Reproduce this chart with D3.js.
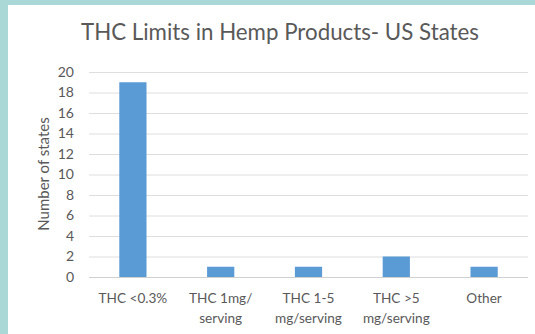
<!DOCTYPE html>
<html>
<head>
<meta charset="utf-8">
<script src="https://cdn.jsdelivr.net/npm/d3@7"></script>
<style>
  html, body { margin: 0; padding: 0; background: #aad8d6; }
  svg { display: block; }
</style>
</head>
<body>
<svg id="chart"></svg>
<script>
const width = 535;
const height = 334;

// data
const categories = ['THC <0.3%', 'THC 1mg/\nserving', 'THC 1-5\nmg/serving', 'THC >5\nmg/serving', 'Other'];
const states = [19, 1, 1, 2, 1];
const yTicks = [0, 2, 4, 6, 8, 10, 12, 14, 16, 18, 20];

const svg = d3.select('#chart')
    .attr('width', width)
    .attr('height', height);

// teal frame, white panel
svg.append('rect').attr('width', width).attr('height', height).attr('fill', '#aad8d6');
svg.append('rect')
    .attr('x', 8).attr('y', 5)
    .attr('width', width - 8).attr('height', height - 5)
    .attr('fill', '#ffffff');

const font = 'Lato, "Open Sans", sans-serif';
const textColor = '#595959';

const margin = {left: 89, right: 7, top: 72, bottom: 57};

const x = d3.scaleBand()
    .domain(categories)
    .range([margin.left, width - margin.right])
    .paddingInner(0.69)
    .paddingOuter(0.345);

const y = d3.scaleLinear()
    .domain([0, 20])
    .range([height - margin.bottom, margin.top]);

// gridlines
svg.append('g')
    .selectAll('line')
    .data(yTicks)
    .join('line')
    .attr('x1', margin.left)
    .attr('x2', width - margin.right)
    .attr('y1', d => y(d) + 0.5)
    .attr('y2', d => y(d) + 0.5)
    .attr('stroke', d => d === 0 ? '#d0d0d0' : '#dedede')
    .attr('stroke-width', 1);

// y tick labels
const yAxis = d3.axisLeft(y).tickValues(yTicks).tickSize(0).tickPadding(0);
const ya = svg.append('g')
    .attr('transform', `translate(${margin.left - 15},0)`)
    .call(yAxis);
ya.select('.domain').remove();
ya.selectAll('text')
    .attr('font-family', font)
    .attr('font-size', 14)
    .attr('fill', textColor);

// bars
svg.append('g')
    .selectAll('rect')
    .data(states)
    .join('rect')
    .attr('x', (d, i) => x(categories[i]))
    .attr('width', x.bandwidth())
    .attr('y', d => y(d))
    .attr('height', d => y(0) - y(d))
    .attr('fill', '#5b9bd5');

// category labels (two lines some)
const xl = svg.append('g')
    .selectAll('text')
    .data(categories)
    .join('text')
    .attr('x', d => x(d) + x.bandwidth() / 2)
    .attr('y', 303)
    .attr('text-anchor', 'middle')
    .attr('font-family', font)
    .attr('font-size', 13.6)
    .attr('fill', textColor);
xl.selectAll('tspan')
    .data(d => d.split('\n'))
    .join('tspan')
    .attr('x', function() { return d3.select(this.parentNode).attr('x'); })
    .attr('dy', (d, i) => i === 0 ? 0 : 20)
    .text(d => d);

// axis title
svg.append('text')
    .attr('transform', 'translate(49,174) rotate(-90)')
    .attr('text-anchor', 'middle')
    .attr('font-family', font)
    .attr('font-size', 15)
    .attr('fill', textColor)
    .text('Number of states');

// chart title
svg.append('text')
    .attr('x', 280)
    .attr('y', 40)
    .attr('text-anchor', 'middle')
    .attr('font-family', font)
    .attr('font-size', 22.3)
    .attr('fill', textColor)
    .text('THC Limits in Hemp Products- US States');
</script>
</body>
</html>
